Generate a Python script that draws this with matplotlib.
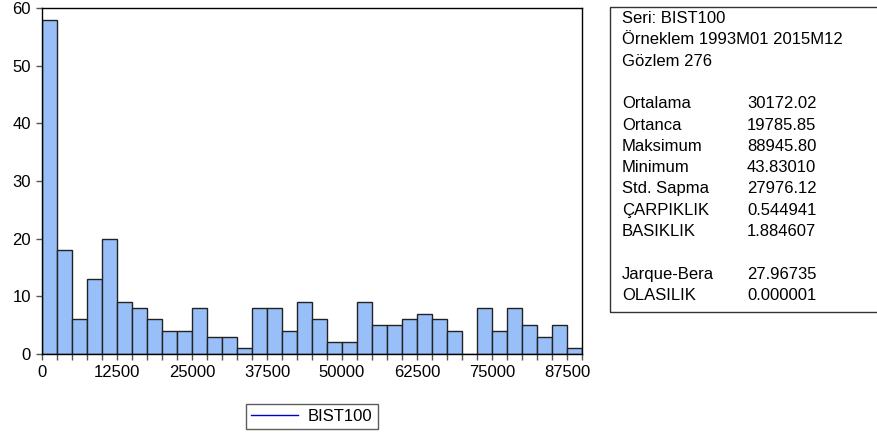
import numpy as np
import matplotlib
matplotlib.use("Agg")
import matplotlib.pyplot as plt
from matplotlib.lines import Line2D
from matplotlib.patches import Rectangle

plt.rcParams["font.family"] = ["Liberation Sans", "DejaVu Sans"]

# histogram of BIST100 (bin width 2500, starting at 0)
BIN_W = 2500
counts = [58, 18, 6, 13, 20, 9, 8, 6, 4, 4, 8, 3, 3, 1, 8, 8, 4, 9, 6, 2,
          2, 9, 5, 5, 6, 7, 6, 4, 0, 8, 4, 8, 5, 3, 5, 1]
x_ticks = [0, 12500, 25000, 37500, 50000, 62500, 75000, 87500]
y_ticks = [0, 10, 20, 30, 40, 50, 60]

# rows of the stats box; "" is an empty line
stat_labels = ["Seri: BIST100", "Örneklem 1993M01 2015M12", "Gözlem 276", "",
               "Ortalama", "Ortanca", "Maksimum", "Minimum", "Std. Sapma",
               "ÇARPIKLIK", "BASIKLIK", "", "Jarque-Bera", "OLASILIK"]
stat_values = ["", "", "", "",
               "30172.02", "19785.85", "88945.80", "43.83010", "27976.12",
               "0.544941", "1.884607", "", "27.96735", "0.000001"]

W, H = 877, 436
fig = plt.figure(figsize=(W / 100, H / 100), dpi=100)
ax = fig.add_axes([42 / W, (H - 354) / H, 540 / W, 346 / H])

edges = np.arange(len(counts)) * BIN_W
ax.bar(edges, counts, width=BIN_W, align="edge", color="#99bff9",
       edgecolor="#222222", linewidth=1.0)

ax.set_xlim(0, BIN_W * len(counts))
ax.set_ylim(0, 60)
ax.set_xticks(x_ticks)
ax.set_xticks(np.arange(0, BIN_W * len(counts) + 1, BIN_W), minor=True)
ax.set_yticks(y_ticks)
ax.tick_params(axis="both", which="both", direction="out", length=4,
               width=1, color="#555555", labelsize=12, pad=4)
for sp in ax.spines.values():
    sp.set_color("black")
    sp.set_linewidth(1)

# stats box on the right
fig.add_artist(Rectangle((610 / W, 1 - 312 / H), 300 / W, 305 / H,
                         transform=fig.transFigure, fill=False,
                         edgecolor="#333333", linewidth=1))
fs = 12
x_lab, x_val = 622 / W, 747 / W
for i, (n, v) in enumerate(zip(stat_labels, stat_values)):
    y = 23 + 21.3 * i
    if n:
        fig.text(x_lab, 1 - y / H, n, fontsize=fs, va="baseline")
    if v:
        fig.text(x_val, 1 - y / H, v, fontsize=fs, va="baseline")

# legend below
handle = [Line2D([], [], color="#0000cc", lw=1)]
leg = fig.legend(handle, ["BIST100"], loc="center",
                 bbox_to_anchor=(312 / W, 1 - 416 / H), fontsize=12,
                 frameon=True, fancybox=False, handlelength=2.8,
                 borderpad=0.3, handletextpad=0.6, borderaxespad=0)
leg.get_frame().set_edgecolor("#333333")
leg.get_frame().set_linewidth(1)

fig.savefig("out.png", dpi=100)
